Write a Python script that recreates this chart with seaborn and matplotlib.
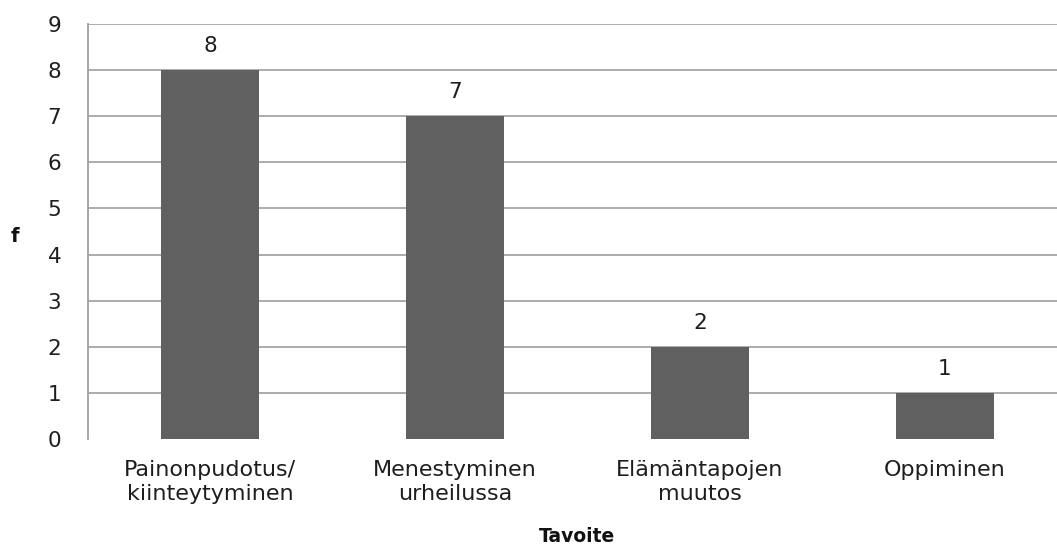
import matplotlib
matplotlib.use("Agg")
import matplotlib.pyplot as plt
import seaborn as sns
import pandas as pd

categories = ["Painonpudotus/\nkiinteytyminen", "Menestyminen\nurheilussa",
              "Elämäntapojen\nmuutos", "Oppiminen"]
counts = [8, 7, 2, 1]
y_ticks = [0, 1, 2, 3, 4, 5, 6, 7, 8, 9]

sns.set_style("white")
plt.rcParams["font.family"] = ["DejaVu Sans"]

df = pd.DataFrame({"Tavoite": categories, "f": counts})

W, H = 1057, 546
fig = plt.figure(figsize=(W / 100, H / 100), dpi=100)
left, right, top, bottom = 88, 1067, 24, 439
ax = fig.add_axes([left / W, 1 - bottom / H, (right - left) / W, (bottom - top) / H])

sns.barplot(data=df, x="Tavoite", y="f", color="#606060", saturation=1,
            width=0.4, linewidth=0, ax=ax, zorder=3)

ax.set_ylim(0, 9)
ax.set_xlim(-0.5, len(categories) - 0.5)
ax.set_yticks(y_ticks)
ax.set_yticklabels([str(t) for t in y_ticks], fontsize=15.5, color="#1e1e1e")
ax.set_xticks(range(len(categories)))
ax.set_xticklabels(categories, fontsize=16, color="#1e1e1e", linespacing=1.25)
ax.tick_params(axis="y", length=7.2, width=1.2, color="#a0a0a0", pad=12)
ax.tick_params(axis="x", length=0, pad=15)

for y in y_ticks[1:]:
    ax.axhline(y, color="#a6a6a6", lw=1.3, zorder=1)

for s in ["top", "right", "bottom"]:
    ax.spines[s].set_visible(False)
ax.spines["left"].set_color("#a0a0a0")
ax.spines["left"].set_linewidth(1.3)

for i, v in enumerate(counts):
    ax.text(i, v + 0.3, str(v), ha="center", va="bottom", fontsize=15.5, color="#1e1e1e")

ax.set_xlabel("")
ax.set_ylabel("")
fig.text(15 / W, 1 - 237 / H, "f", fontsize=14, fontweight="bold", color="#111111",
         ha="center", va="center")
fig.text(577 / W, 1 - 536 / H, "Tavoite", fontsize=13.5, fontweight="bold", color="#111111",
         ha="center", va="center")

fig.savefig("out.png", dpi=100)
